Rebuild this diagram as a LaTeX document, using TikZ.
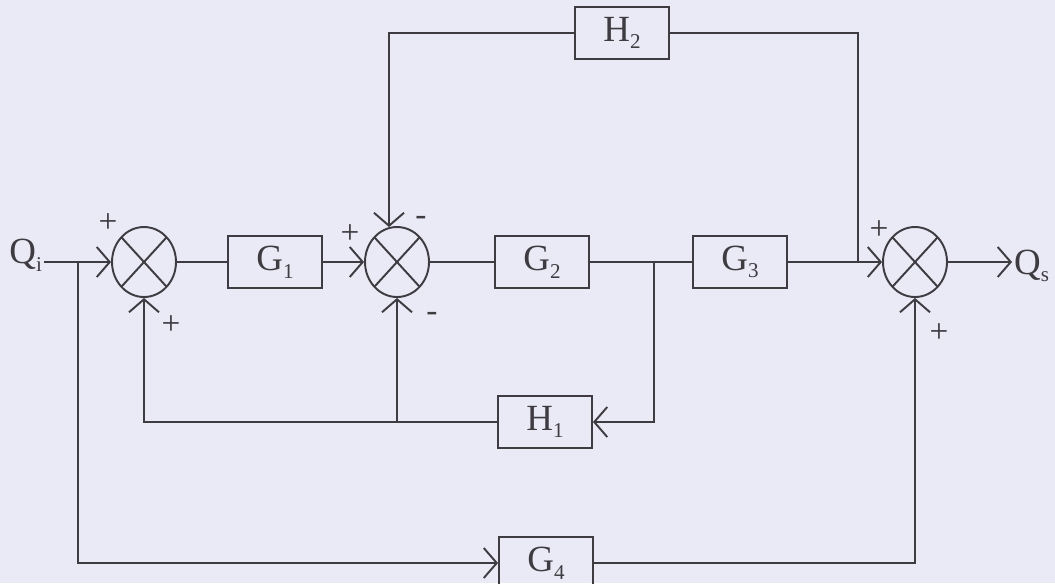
\documentclass[tikz,border=0pt]{standalone}
\usepackage{fontspec}
\setmainfont{Liberation Serif}
\usepackage{xcolor}
\usepackage{tikz}
\usetikzlibrary{arrows.meta,positioning,shapes.geometric,calc}
\definecolor{paper}{RGB}{233,234,245}
\definecolor{ink}{RGB}{62,60,64}
\newcommand{\blocksub}[1]{\raisebox{-0.45ex}{\fontsize{12}{12}\selectfont #1}}

\begin{document}
\begin{tikzpicture}[
  x=0.02cm,y=-0.02cm,
  block/.style={draw=ink, line width=1.1pt, minimum width=1.88cm, minimum height=1.04cm, inner sep=0pt, font=\fontsize{21}{24}\selectfont, text=ink},
  sum/.style={draw=ink, line width=1.1pt, ellipse, minimum width=1.28cm, minimum height=1.4cm, inner sep=0pt,
    path picture={\draw[ink, line width=1.1pt] (path picture bounding box.north west) -- (path picture bounding box.south east)
      (path picture bounding box.south west) -- (path picture bounding box.north east);}},
  line/.style={draw=ink, line width=1.1pt},
  arrow/.style={line, -{Straight Barb[length=0.26cm, width=0.6cm]}},
  sign/.style={font=\fontsize{19}{19}\selectfont, text=ink},
  signal/.style={font=\fontsize{21}{24}\selectfont, text=ink, inner sep=1pt}
]
\useasboundingbox (0,0) rectangle (1055,583);
\fill[paper] (0,0) rectangle (1055,583);
\clip (0,0) rectangle (1055,583);

\node[sum] (s1) at (144,262) {};
\node[sum] (s2) at (397,262) {};
\node[sum] (s3) at (915,262) {};
\node[block] (g1) at (275,262) {G\blocksub{1}};
\node[block] (g2) at (542,262) {G\blocksub{2}};
\node[block] (g3) at (740,262) {G\blocksub{3}};
\node[block] (h1) at (545,422) {H\blocksub{1}};
\node[block] (h2) at (622,33) {H\blocksub{2}};
\node[block] (g4) at (546,563) {G\blocksub{4}};
\node[signal, anchor=east] (qi) at (44,255) {Q\blocksub{i}};
\node[signal, anchor=west] (qs) at (1012,266) {Q\blocksub{s}};

\coordinate (b1) at (78,262);
\coordinate (b2) at (654,262);
\coordinate (b3) at (858,262);

\draw[arrow] (qi.east |- s1.west) -- (s1.west);
\draw[line] (s1.east) -- (g1.west);
\draw[arrow] (g1.east) -- (s2.west);
\draw[line] (s2.east) -- (g2.west);
\draw[line] (g2.east) -- (g3.west);
\draw[arrow] (g3.east) -- (s3.west);
\draw[arrow] (s3.east) -- (qs.west |- s3.east);
\draw[arrow] (b1) |- (g4.west);
\draw[arrow] (g4.east) -| (s3.south);
\draw[arrow] (b2) |- (h1.east);
\draw[arrow] (h1.west) -| (s1.south);
\draw[arrow] (h1.west -| s2.south) -- (s2.south);
\draw[line] (b3) |- (h2.east);
\draw[arrow] (h2.west) -| ($(s2.north)+(-8,1)$);

\node[sign] (p1a) at (108,223) {+};
\node[sign] (p1b) at (171,325) {+};
\node[sign] (p2a) at (350,234) {+};
\node[sign] (m2a) at (421,221) {-};
\node[sign] (m2b) at (432,317) {-};
\node[sign] (p3a) at (879,230) {+};
\node[sign] (p3b) at (939,333) {+};
\end{tikzpicture}
\end{document}
